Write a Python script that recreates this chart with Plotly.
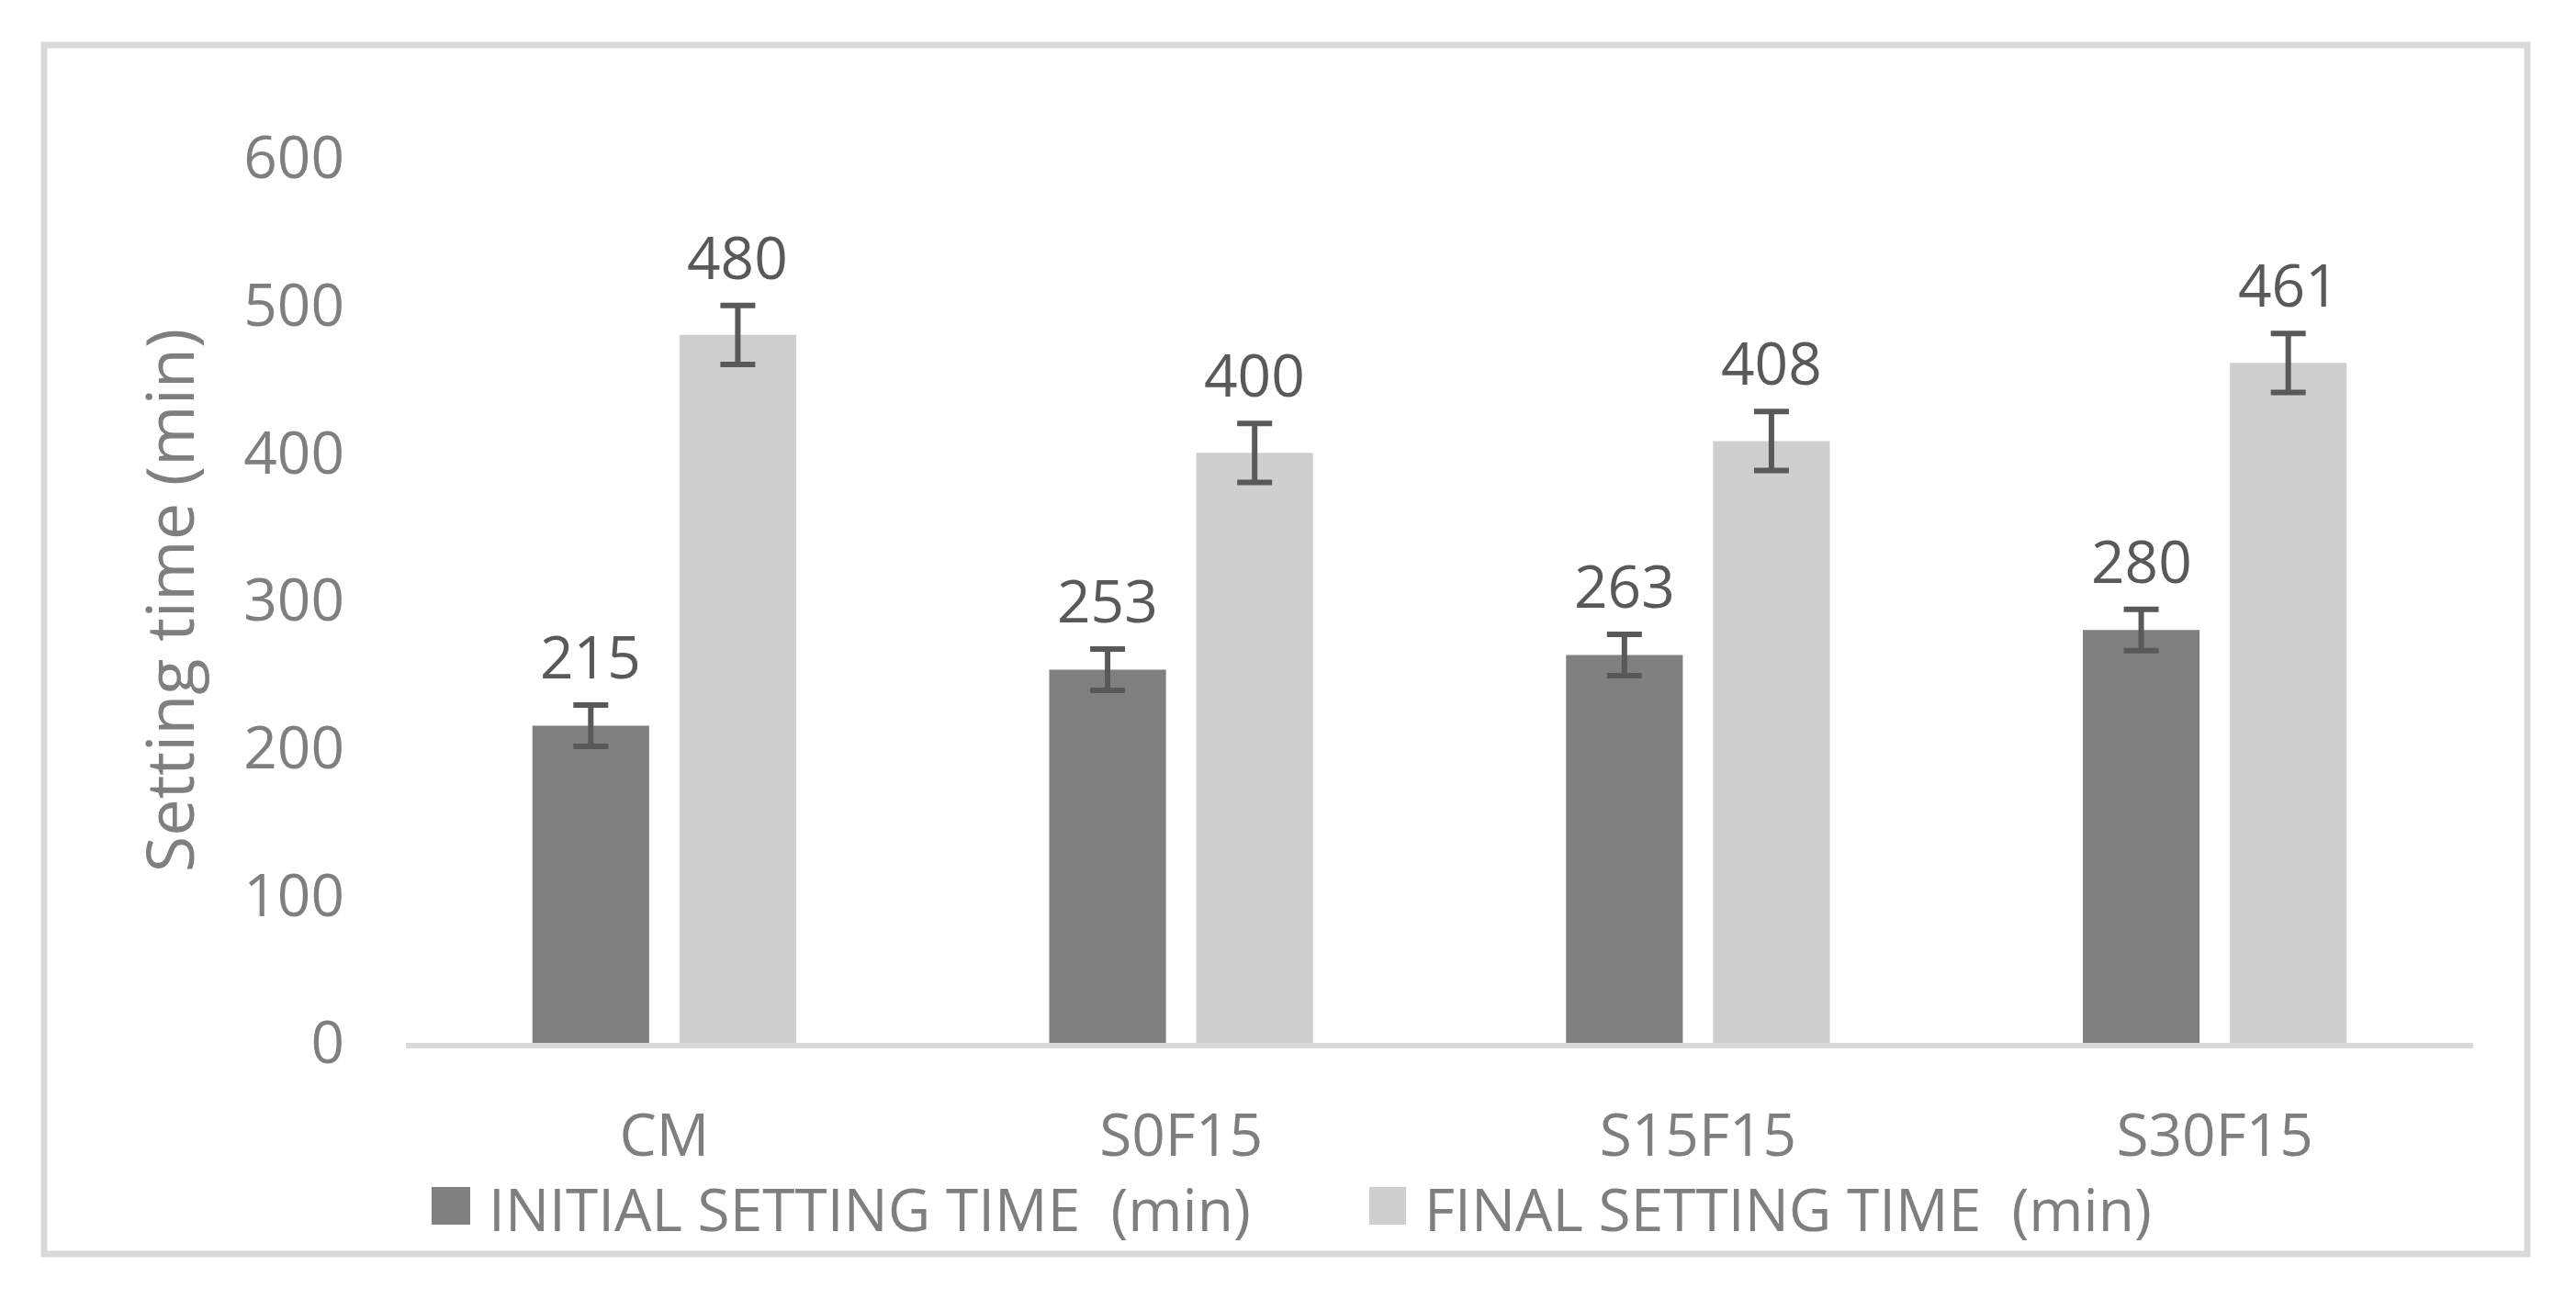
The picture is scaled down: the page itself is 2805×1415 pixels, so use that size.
import plotly.graph_objects as go

categories = ["CM", "S0F15", "S15F15", "S30F15"]
initial_time = [215, 253, 263, 280]
final_time = [480, 400, 408, 461]
initial_err = [14, 14, 14, 14]
final_err = [20, 20, 20, 20]
series_names = ["INITIAL SETTING TIME  (min)", "FINAL SETTING TIME  (min)"]
y_ticks = [0, 100, 200, 300, 400, 500, 600]

W, H = 2805, 1415
L, R, T, B = 442, 112, 172, 279
PW, PH = W - L - R, H - T - B

def px(x):
    return (x - L) / PW

def py(y):
    return (H - B - y) / PH

C_INIT = "#808080"
C_FINAL = "#d0cfcd"
C_ERR = "#595959"
C_TXT = "#7f7f7f"
FONT = "Open Sans"

fig = go.Figure()
fig.add_trace(go.Bar(
    x=categories, y=initial_time, name=series_names[0],
    marker=dict(color=C_INIT, line=dict(width=0)),
    error_y=dict(type="data", array=initial_err, color=C_ERR, thickness=6, width=19),
    showlegend=False,
))
fig.add_trace(go.Bar(
    x=categories, y=final_time, name=series_names[1],
    marker=dict(color=C_FINAL, line=dict(width=0)),
    error_y=dict(type="data", array=final_err, color=C_ERR, thickness=6, width=19),
    showlegend=False,
))

annotations = []
for cat, v, e in zip(categories, initial_time, initial_err):
    annotations.append(dict(x=cat, y=v + e, xref="x", yref="y", text=str(v), showarrow=False,
                            xshift=-80, yshift=8, yanchor="bottom",
                            font=dict(family=FONT, size=64, color=C_ERR)))
for cat, v, e in zip(categories, final_time, final_err):
    annotations.append(dict(x=cat, y=v + e, xref="x", yref="y", text=str(v), showarrow=False,
                            xshift=80, yshift=8, yanchor="bottom",
                            font=dict(family=FONT, size=64, color=C_ERR)))

# manual legend
legend_items = [(470, 512, C_INIT, series_names[0]), (1491, 1531, C_FINAL, series_names[1])]
shapes = []
for x0, x1, col, name in legend_items:
    shapes.append(dict(type="rect", xref="paper", yref="paper",
                       x0=px(x0), x1=px(x1), y0=py(1334), y1=py(1293),
                       fillcolor=col, line=dict(width=0)))
    annotations.append(dict(x=px(x1 + 18), y=py(1316), xref="paper", yref="paper",
                            text=name.replace("  ", "&nbsp; "), showarrow=False,
                            xanchor="left", yanchor="middle",
                            font=dict(family=FONT, size=64, color=C_TXT)))

# outer border
shapes.append(dict(type="rect", xref="paper", yref="paper",
                   x0=px(48), x1=px(2752), y0=py(1366), y1=py(49),
                   line=dict(color="#d9d9d9", width=7), fillcolor="rgba(0,0,0,0)", layer="below"))

fig.update_layout(
    width=W, height=H, autosize=False,
    margin=dict(l=L, r=R, t=T, b=B, pad=0),
    paper_bgcolor="white", plot_bgcolor="white",
    barmode="group", bargap=0.431, bargroupgap=0.206,
    font=dict(family=FONT, color=C_TXT),
    shapes=shapes, annotations=annotations,
    xaxis=dict(
        showline=True, linecolor="#d9d9d9", linewidth=6,
        showgrid=False, zeroline=False, ticks="",
        tickfont=dict(family=FONT, size=64, color=C_TXT),
        ticklabelstandoff=40,
    ),
    yaxis=dict(
        range=[0, 600], tickvals=y_ticks, showgrid=False, zeroline=False,
        showline=False, ticks="",
        tickfont=dict(family=FONT, size=64, color=C_TXT),
        ticklabelstandoff=66,
        title=dict(text="Setting time (min)", standoff=30,
                   font=dict(family=FONT, size=72, color=C_TXT)),
        automargin=False,
    ),
)

fig.write_html("out.html", config={"displayModeBar": False},
               post_script="document.body.style.margin='0px';document.body.style.overflow='hidden';")
